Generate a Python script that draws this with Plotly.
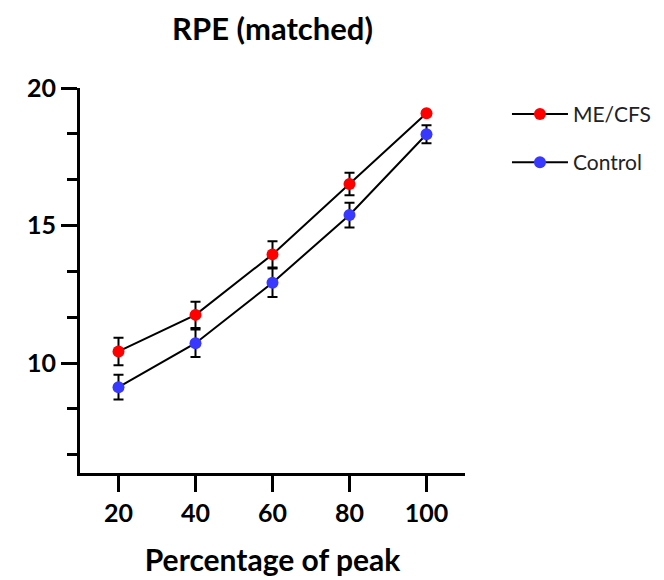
import plotly.graph_objects as go

x_pct = [20, 40, 60, 80, 100]
mecfs_mean = [10.42, 11.75, 13.95, 16.51, 19.08]
mecfs_err = [0.5, 0.48, 0.48, 0.41, 0.0]
control_mean = [9.12, 10.72, 12.92, 15.38, 18.32]
control_err = [0.45, 0.5, 0.52, 0.45, 0.33]

FONT = "Lato"

fig = go.Figure()
fig.add_trace(go.Scatter(
    x=x_pct, y=mecfs_mean, name="ME/CFS", mode="lines+markers",
    legendgroup="a",
    line=dict(color="black", width=2),
    marker=dict(color="#ff0000", size=12),
    error_y=dict(type="data", array=mecfs_err, color="black", thickness=2, width=5),
))
fig.add_trace(go.Scatter(
    x=x_pct, y=control_mean, name="Control", mode="lines+markers",
    legendgroup="b",
    line=dict(color="black", width=2),
    marker=dict(color="#3838ff", size=12),
    error_y=dict(type="data", array=control_err, color="black", thickness=2, width=5),
))

W, H = 656, 572
fig.update_layout(
    width=W, height=H,
    margin=dict(l=72, r=W - 72 - 385, t=80, b=H - 80 - 385, autoexpand=False),
    plot_bgcolor="white", paper_bgcolor="white",
    font=dict(family=FONT, color="black"),
    title=dict(text="<b>RPE (matched)</b>", x=0.5, xref="paper", xanchor="center",
               y=1 - 21/H, yref="container", yanchor="middle",
               font=dict(size=31, family=FONT, color="black")),
    legend=dict(x=1.109, y=0.985, xanchor="left", yanchor="top",
                font=dict(size=21, family=FONT, color="#222"),
                tracegroupgap=18, traceorder="grouped", itemwidth=56),
    showlegend=True,
)
fig.update_xaxes(
    range=[10, 110], tickvals=x_pct, ticktext=[str(v) for v in x_pct],
    showline=True, linecolor="black", linewidth=3, mirror=False,
    ticks="outside", ticklen=16, tickwidth=3, tickcolor="black",
    ticklabelstandoff=0,
    showgrid=False, zeroline=False,
    tickfont=dict(size=25, family=FONT, color="black", weight="bold"),
    title=dict(text="<b>Percentage of peak</b>", standoff=24,
               font=dict(size=30, family=FONT, color="black")),
)
fig.update_yaxes(
    range=[6, 20], tick0=0, dtick=5,
    showline=True, linecolor="black", linewidth=3,
    ticks="outside", ticklen=16, tickwidth=3, tickcolor="black",
    minor=dict(tick0=0, dtick=5/3, ticks="outside", ticklen=10, tickwidth=3, tickcolor="black", showgrid=False),
    showgrid=False, zeroline=False,
    tickfont=dict(size=25, family=FONT, color="black", weight="bold"),
)

fig.write_html("out.html")
